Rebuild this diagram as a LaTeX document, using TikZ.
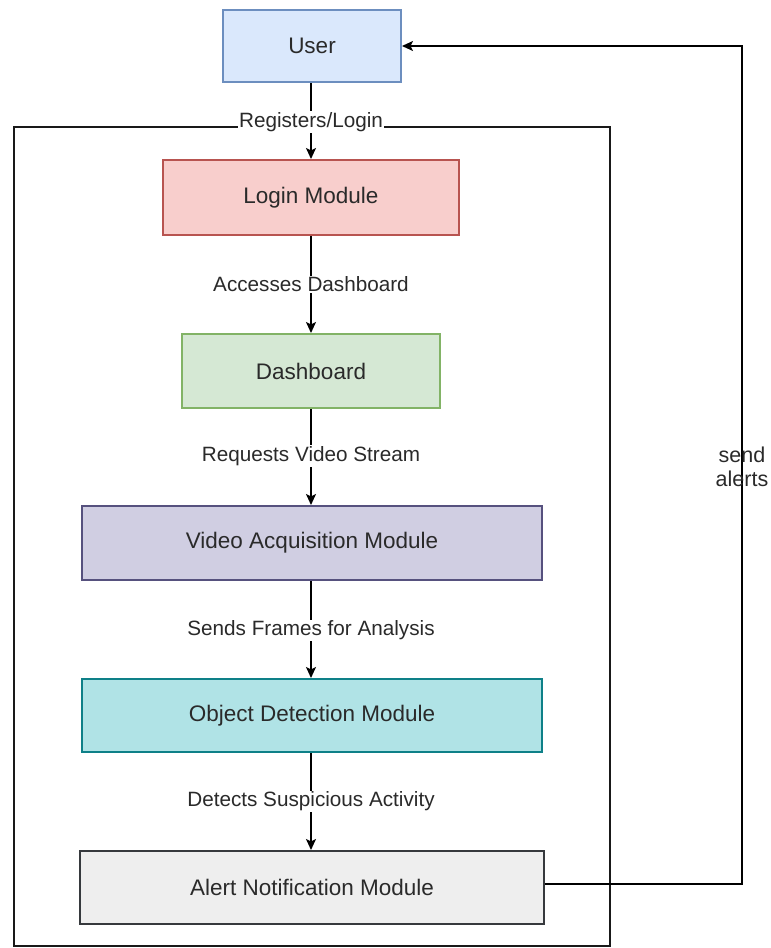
\documentclass[tikz,border=0pt]{standalone}
\usepackage{fontspec}
\setmainfont{Liberation Sans}
\usetikzlibrary{arrows.meta}
\definecolor{txt}{HTML}{2A2A2A}
\definecolor{userF}{HTML}{DAE8FC}\definecolor{userD}{HTML}{6C8EBF}
\definecolor{loginF}{HTML}{F8CECC}\definecolor{loginD}{HTML}{B85450}
\definecolor{dashF}{HTML}{D5E8D4}\definecolor{dashD}{HTML}{82B366}
\definecolor{vidF}{HTML}{D0CEE2}\definecolor{vidD}{HTML}{56517E}
\definecolor{objF}{HTML}{B0E3E6}\definecolor{objD}{HTML}{0E8088}
\definecolor{alF}{HTML}{EEEEEE}\definecolor{alD}{HTML}{36393D}
\tikzset{
  box/.style={draw, line width=2pt, minimum height=73pt, inner sep=0pt, text=txt,
              font=\fontsize{22.5}{26}\selectfont},
  flow/.style={line width=1.6pt, -{Stealth[length=11pt,width=10pt,inset=2.5pt]}},
  elabel/.style={fill=white, inner sep=1pt, text=txt, font=\fontsize{20.7}{24}\selectfont},
  framebox/.style={draw=black!90, line width=2.6pt, inner sep=0pt}
}
\begin{document}
\begin{tikzpicture}[x=1pt,y=-1pt]
\useasboundingbox (0,0) rectangle (771,948);
% outer frame
\node[framebox, minimum width=596pt, minimum height=819pt] (frame) at (312,536.5) {};
% nodes
\node[box, fill=userF, draw=userD, minimum width=178pt, minimum height=72pt] (user) at (312,46) {User};
\node[box, fill=loginF, draw=loginD, minimum width=296pt, minimum height=75pt] (login) at (311,197.5) {Login Module};
\node[box, fill=dashF, draw=dashD, minimum width=258pt, minimum height=74pt] (dash) at (311,371) {Dashboard};
\node[box, fill=vidF, draw=vidD, minimum width=460pt, minimum height=74pt] (video) at (312,543) {Video Acquisition Module};
\node[box, fill=objF, draw=objD, minimum width=460pt, minimum height=73pt] (obj) at (312,715.5) {Object Detection Module};
\node[box, fill=alF, draw=alD, minimum width=464pt, minimum height=73pt] (alert) at (312,887.5) {Alert Notification Module};
% edges
\draw[flow] (user.south -| login.north) -- (login.north);
\node[elabel] (l1) at (311,122) {Registers/Login};
\draw[flow] (login.south) -- (dash.north) node[elabel, pos=0.5] (l2) {Accesses Dashboard};
\draw[flow] (dash.south) -- (dash.south |- video.north) node[elabel, pos=0.49] (l3) {Requests Video Stream};
\draw[flow] (video.south -| dash.south) -- (obj.north -| dash.south) node[elabel, pos=0.51] (l4) {Sends Frames for Analysis};
\draw[flow] (obj.south -| dash.south) -- (alert.north -| dash.south) node[elabel, pos=0.5] (l5) {Detects Suspicious Activity};
% feedback
\coordinate (c1) at (742,884);
\coordinate (c2) at (742,46);
\draw[flow] (alert.east |- c1) -- (c1) -- (c2) -- (user.east);
\node[text=txt, font=\fontsize{21.5}{24}\selectfont, align=center, inner sep=0pt] (sa) at (742,467) {send\\alerts};
\end{tikzpicture}
\end{document}
